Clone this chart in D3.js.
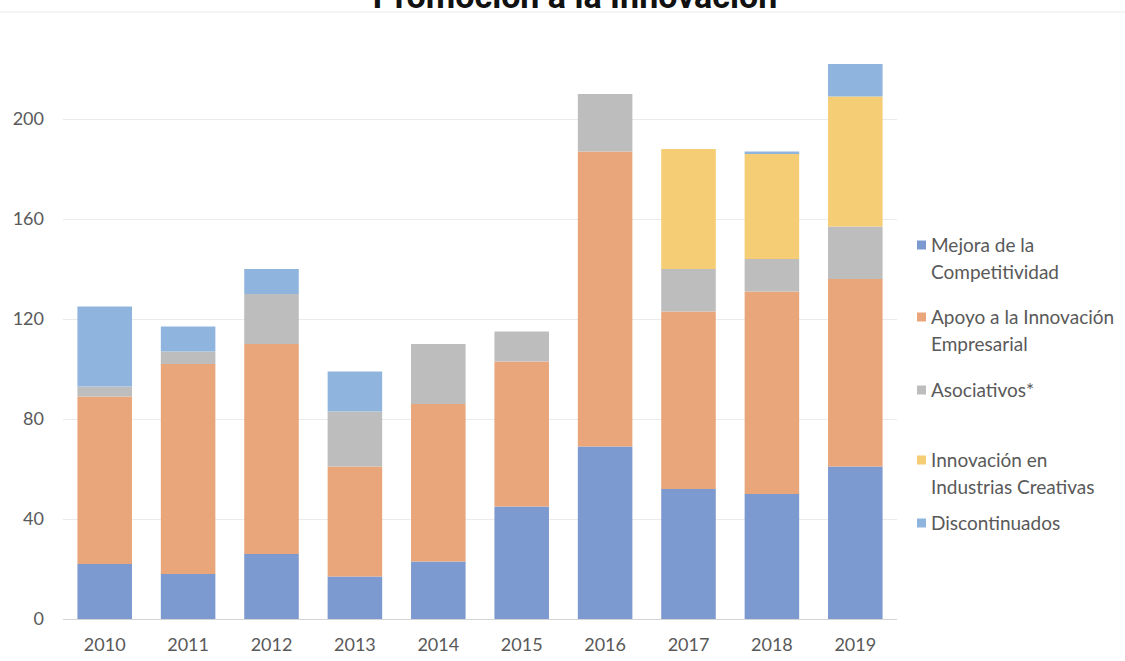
<!DOCTYPE html>
<html>
<head>
<meta charset="utf-8">
<script src="https://cdn.jsdelivr.net/npm/d3@7"></script>
<style>
  html, body { margin: 0; padding: 0; background: #ffffff; }
  svg { display: block; }
</style>
</head>
<body>
<svg id="chart" width="1125" height="661"></svg>
<script>
// Programas de promoción a la innovación, número por año y línea de apoyo
const years = ["2010", "2011", "2012", "2013", "2014", "2015", "2016", "2017", "2018", "2019"];

const mejoraCompetitividad = [22, 18, 26, 17, 23, 45, 69, 52, 50, 61];
const apoyoInnovacion      = [67, 84, 84, 44, 63, 58, 118, 71, 81, 75];
const asociativos          = [4, 5, 20, 22, 24, 12, 23, 17, 13, 21];
const industriasCreativas  = [0, 0, 0, 0, 0, 0, 0, 48, 42, 52];
const discontinuados       = [32, 10, 10, 16, 0, 0, 0, 0, 1, 13];

const seriesNames = [
  ["Mejora de la", "Competitividad"],
  ["Apoyo a la Innovación", "Empresarial"],
  ["Asociativos*"],
  ["Innovación en", "Industrias Creativas"],
  ["Discontinuados"]
];
const seriesColors = ["#7d9ad0", "#e9a67a", "#bdbdbd", "#f5cd75", "#8fb5de"];
const yTicks = [0, 40, 80, 120, 160, 200];
const titleText = "Promoción a la Innovación";

const seriesKeys = ["mejora", "apoyo", "asoc", "creativas", "disc"];
const table = years.map((y, i) => ({
  year: y,
  mejora: mejoraCompetitividad[i],
  apoyo: apoyoInnovacion[i],
  asoc: asociativos[i],
  creativas: industriasCreativas[i],
  disc: discontinuados[i]
}));

const svg = d3.select("#chart");
const plot = { left: 63, right: 897, top: 19, bottom: 619 };

const x = d3.scaleBand()
  .domain(years)
  .range([plot.left, plot.right])
  .paddingInner(0.346)
  .paddingOuter(0.173);

const y = d3.scaleLinear()
  .domain([0, 240])
  .range([plot.bottom, plot.top]);

const font = "Lato, 'Open Sans', sans-serif";
const textColor = "#595959";

// thin frame line under the title
svg.append("line")
  .attr("x1", 0).attr("x2", 1125)
  .attr("y1", 12).attr("y2", 12)
  .attr("stroke", "#f0f0f0").attr("stroke-width", 1.5);

// title, partly above the top edge
svg.append("text")
  .attr("x", 575).attr("y", 8)
  .attr("text-anchor", "middle")
  .attr("font-family", "Roboto, 'Open Sans', sans-serif")
  .attr("font-weight", 700)
  .attr("font-size", 34)
  .attr("fill", "#111")
  .text(titleText);

// horizontal gridlines
svg.append("g")
  .selectAll("line")
  .data(yTicks.filter(t => t > 0))
  .join("line")
  .attr("x1", plot.left).attr("x2", plot.right)
  .attr("y1", d => Math.round(y(d)) + 0.5)
  .attr("y2", d => Math.round(y(d)) + 0.5)
  .attr("stroke", "#ebebeb")
  .attr("stroke-width", 1);

// y axis labels
const yAxis = d3.axisLeft(y).tickValues(yTicks).tickSize(0).tickPadding(19);
const gy = svg.append("g")
  .attr("transform", `translate(${plot.left},0)`)
  .call(yAxis);
gy.select(".domain").remove();
gy.selectAll("text")
  .attr("font-family", font)
  .attr("font-size", 18)
  .attr("fill", textColor);

// stacked bars
const stack = d3.stack().keys(seriesKeys);
const layers = stack(table);

svg.append("g")
  .selectAll("g")
  .data(layers)
  .join("g")
  .attr("fill", (d, i) => seriesColors[i])
  .selectAll("rect")
  .data(d => d)
  .join("rect")
  .attr("x", d => x(d.data.year))
  .attr("width", x.bandwidth())
  .attr("y", d => y(d[1]))
  .attr("height", d => y(d[0]) - y(d[1]));

// baseline
svg.append("line")
  .attr("x1", plot.left).attr("x2", plot.right)
  .attr("y1", y(0) + 0.5).attr("y2", y(0) + 0.5)
  .attr("stroke", "#d4d4d4")
  .attr("stroke-width", 1);

// x axis labels
const xAxis = d3.axisBottom(x).tickSize(0).tickPadding(19);
const gx = svg.append("g")
  .attr("transform", `translate(0,${plot.bottom})`)
  .call(xAxis);
gx.select(".domain").remove();
gx.selectAll("text")
  .attr("font-family", font)
  .attr("font-size", 18)
  .attr("fill", textColor);

// legend
const legendCenters = [245, 317, 390, 460, 523];
const legend = svg.append("g");
seriesNames.forEach((lines, i) => {
  const cy = legendCenters[i];
  legend.append("rect")
    .attr("x", 917).attr("y", cy - 4.5)
    .attr("width", 9).attr("height", 9)
    .attr("fill", seriesColors[i]);
  const t = legend.append("text")
    .attr("x", 931)
    .attr("y", cy + 7)
    .attr("font-family", font)
    .attr("font-size", 19)
    .attr("fill", textColor);
  lines.forEach((ln, j) => {
    t.append("tspan")
      .attr("x", 931)
      .attr("dy", j === 0 ? 0 : 27)
      .text(ln);
  });
});
</script>
</body>
</html>
